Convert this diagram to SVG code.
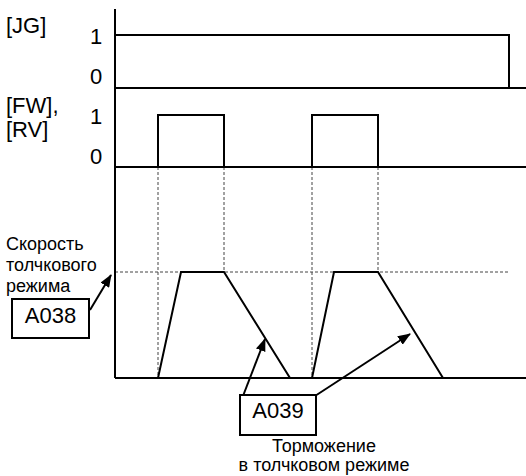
<svg xmlns="http://www.w3.org/2000/svg" width="526" height="476" viewBox="0 0 526 476">
<defs>
<style>
.t{font-family:"Liberation Sans",Arial,sans-serif;fill:#000}
.big{font-size:22px}
.sm{font-size:18px}
.ln{fill:none;stroke:#000;stroke-width:2}
.ds{fill:none;stroke:#444;stroke-width:1;stroke-dasharray:3,2}
.bx{fill:#fff;stroke:#000;stroke-width:2}
.ar{fill:none;stroke:#000;stroke-width:2;marker-end:url(#ah)}
</style>
<marker id="ah" markerWidth="13" markerHeight="10" refX="12" refY="5" orient="auto" markerUnits="userSpaceOnUse" viewBox="0 0 13 10">
<path d="M0,0 L13,5 L0,10 Z" fill="#000"/>
</marker>
</defs>
<rect width="526" height="476" fill="#fff"/>
<g id="guides">
<path class="ds" d="M158,167 V378 M224,167 V272 M312,167 V378 M378,167 V272 M115,272 H509"/>
</g>
<g id="axes">
<path class="ln" d="M115,9 V378"/>
<path class="ln" d="M115,88 H526 M115,167 H526 M115,378 H526"/>
</g>
<g id="jg-signal">
<path class="ln" d="M115,35 H509 V88"/>
<text class="t big" x="6" y="33">[JG]</text>
<text class="t big" x="96" y="44" text-anchor="middle">1</text>
<text class="t big" x="96" y="84" text-anchor="middle">0</text>
</g>
<g id="fw-signal">
<path class="ln" d="M158,167 V115 H224 V167 M312,167 V115 H378 V167"/>
<text class="t big" x="6" y="113">[FW],</text>
<text class="t big" x="6" y="137">[RV]</text>
<text class="t big" x="96" y="124" text-anchor="middle">1</text>
<text class="t big" x="96" y="164" text-anchor="middle">0</text>
</g>
<g id="speed">
<path class="ln" d="M158,378 L181,272 H224 L290,378 M312,378 L334,272 H378 L443,378"/>
<text class="t sm" x="6" y="250">Скорость</text>
<text class="t sm" x="6" y="271">толчкового</text>
<text class="t sm" x="6" y="292">режима</text>
</g>
<g id="connectors">
<path class="ar" d="M90,310 L111,275"/>
<path class="ar" d="M243,396 L265,339"/>
<path class="ar" d="M315,396 L410,334"/>
</g>
<g id="a038">
<rect class="bx" x="12" y="299" width="77" height="39"/>
<text class="t big" x="50.5" y="323" text-anchor="middle">A038</text>
</g>
<g id="a039">
<rect class="bx" x="240" y="395" width="76" height="40"/>
<text class="t big" x="278" y="418" text-anchor="middle">A039</text>
<text class="t sm" x="324" y="452" text-anchor="middle">Торможение</text>
<text class="t sm" x="324" y="471" text-anchor="middle">в толчковом режиме</text>
</g>
</svg>
